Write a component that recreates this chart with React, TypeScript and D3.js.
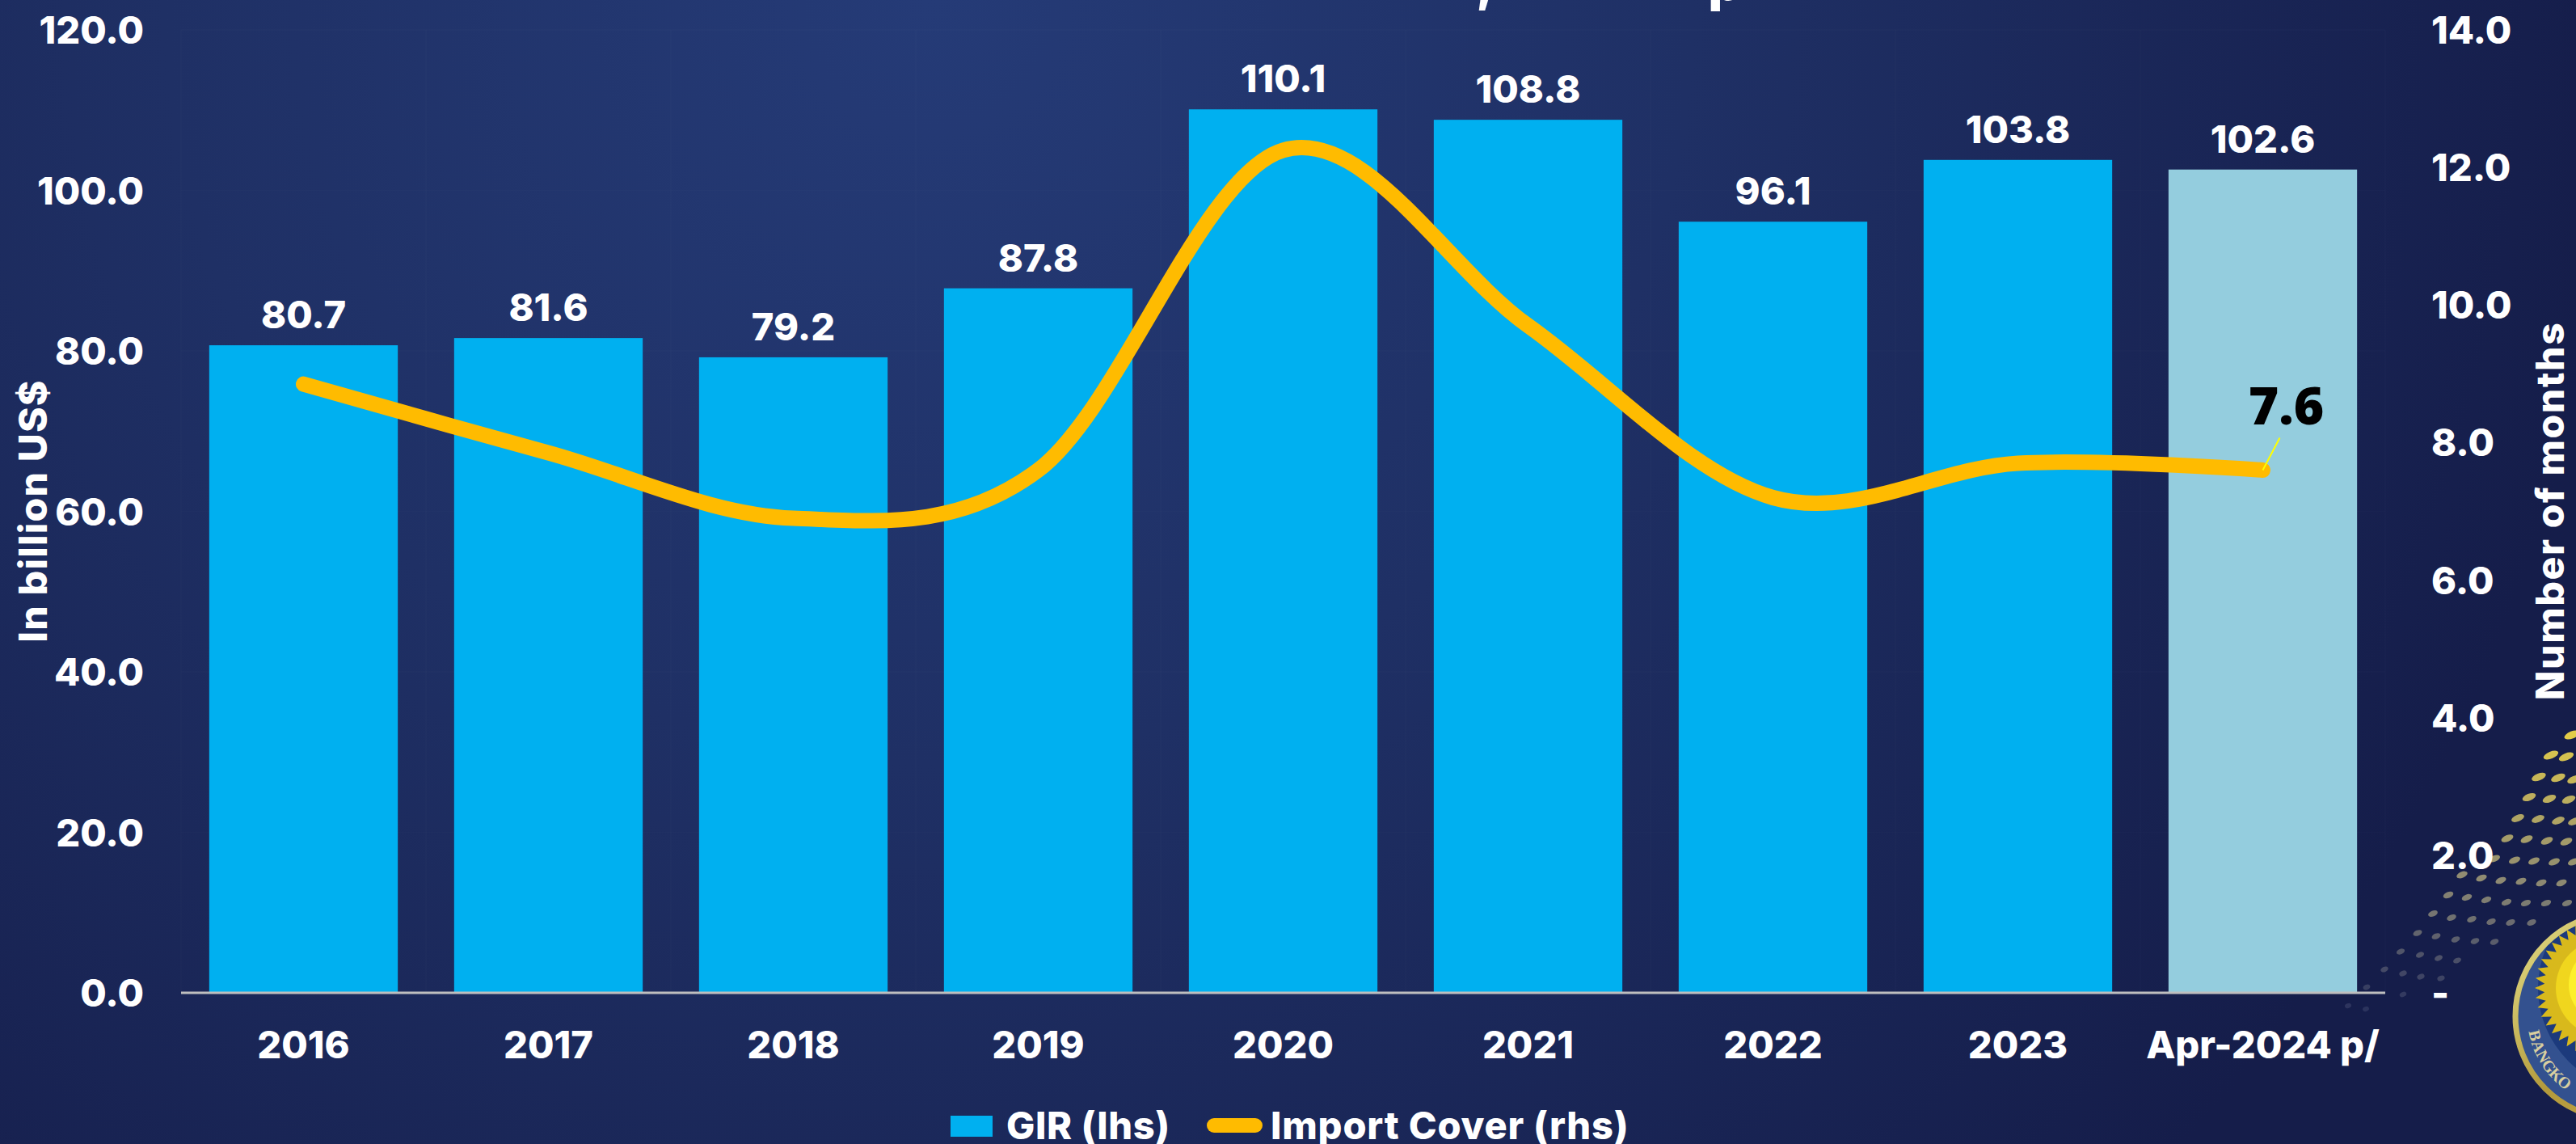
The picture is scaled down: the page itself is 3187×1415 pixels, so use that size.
import React from "react";
import * as d3 from "d3";

const W = 3187;
const H = 1415;

const categories = ["2016", "2017", "2018", "2019", "2020", "2021", "2022", "2023", "Apr-2024 p/"];
const girValues = [80.7, 81.6, 79.2, 87.8, 110.1, 108.8, 96.1, 103.8, 102.6];
const importCover = [8.85, 7.85, 6.9, 7.6, 12.25, 9.7, 7.2, 7.7, 7.6];
const leftTicks = [0, 20, 40, 60, 80, 100, 120];
const rightTicks = [0, 2, 4, 6, 8, 10, 12, 14];
const sealLetters = ["B", "A", "N", "G", "K", "O", "S"];

// Halftone arc of dots sweeping down to the seal in the lower right corner.
const sealDots: [number, number][] = [
  [3182, 909], [3175, 936], [3156, 934], [3141, 961], [3165, 962], [3185, 964],
  [3129, 986], [3154, 988], [3178, 989], [3115, 1012], [3140, 1013], [3165, 1015], [3185, 1016],
  [3102, 1037], [3126, 1038], [3151, 1040], [3175, 1041],
  [3086, 1062], [3111, 1064], [3135, 1065], [3160, 1066], [3184, 1066],
  [3046, 1082], [3070, 1086], [3094, 1089], [3119, 1090], [3144, 1092], [3169, 1092],
  [3029, 1107], [3052, 1110], [3076, 1113], [3101, 1116], [3125, 1117], [3150, 1117], [3176, 1117],
  [3010, 1130], [3033, 1135], [3058, 1137], [3082, 1140], [3106, 1141], [3132, 1141],
  [2991, 1154], [3014, 1158], [3038, 1162], [3062, 1164], [3086, 1165],
  [2970, 1177], [2994, 1181], [3017, 1185], [3040, 1188],
  [2950, 1199], [2973, 1204], [2995, 1208], [3020, 1210],
  [2928, 1221], [2973, 1230], [2905, 1244], [2927, 1248],
];

const FONT = "Inter, 'Open Sans', sans-serif";
const plot = { left: 224, right: 2951, top: 37, bottom: 1228 };
const seal = { cx: 3239, cy: 1257, r: 130, sunX: 3222, sunY: 1222 };

// Spiky outline for the sun in the seal.
function sunburst(cx: number, cy: number, outer: number, inner: number, n: number) {
  const radial = d3
    .lineRadial<number>()
    .angle((i) => (i * Math.PI) / n)
    .radius((i) => (i % 2 === 0 ? outer : inner))
    .curve(d3.curveLinearClosed);
  return { d: radial(d3.range(2 * n)) ?? "", transform: `translate(${cx},${cy})` };
}

export default function App() {
  const x = d3.scaleBand<string>().domain(categories).range([plot.left, plot.right]).paddingInner(0.23).paddingOuter(0.115);
  const yL = d3.scaleLinear().domain([0, 120]).range([plot.bottom, plot.top]);
  const yR = d3.scaleLinear().domain([0, 14]).range([plot.bottom, plot.top]);
  const cx = (c: string) => (x(c) as number) + x.bandwidth() / 2;
  const line = d3
    .line<number>()
    .x((_, i) => cx(categories[i]))
    .y((v) => yR(v))
    .curve(d3.curveCatmullRom.alpha(0));
  const last = categories.length - 1;
  const lastX = cx(categories[last]);
  const lastY = yR(importCover[last]);
  const step = x.step();

  const dotColor = d3.scaleLinear<string>().domain([950, 1090, 1250]).range(["#d8c455", "#b5ad80", "#5d6488"]);
  const dotAlpha = d3.scaleLinear().domain([950, 1130, 1250]).range([0.95, 0.7, 0.3]);
  const dotRx = d3.scaleLinear().domain([920, 1250]).range([10, 4]).clamp(true);
  const dotRy = d3.scaleLinear().domain([920, 1250]).range([4.5, 3]).clamp(true);
  const sun = sunburst(seal.sunX, seal.sunY, 86, 74, 44);

  return (
    <svg
      width={W}
      height={H}
      viewBox={`0 0 ${W} ${H}`}
      style={{ position: "absolute", left: 0, top: 0, display: "block" }}
      fontFamily={FONT}
      fontWeight={800}
    >
      <defs>
        <radialGradient id="bg" gradientUnits="userSpaceOnUse" cx={1150} cy={0} r={2100}>
          <stop offset="0" stopColor="#253b77" />
          <stop offset="0.45" stopColor="#1f3065" />
          <stop offset="1" stopColor="#151d4a" />
        </radialGradient>
        <linearGradient id="sealRing" x1="0" y1="0" x2="1" y2="1">
          <stop offset="0" stopColor="#e6e08a" />
          <stop offset="0.5" stopColor="#b39a3c" />
          <stop offset="1" stopColor="#c9a94a" />
        </linearGradient>
        <clipPath id="sealClip">
          <circle cx={seal.cx} cy={seal.cy} r={seal.r} />
        </clipPath>
      </defs>
      <rect width={W} height={H} fill="url(#bg)" />

      {/* faint chart grid */}
      <g stroke="#ffffff" strokeOpacity={0.012} strokeWidth={2}>
        {leftTicks.map((t) => (
          <line key={t} x1={plot.left} x2={plot.right} y1={yL(t)} y2={yL(t)} />
        ))}
        {d3.range(categories.length + 1).map((i) => (
          <line key={i} x1={plot.left + i * step} x2={plot.left + i * step} y1={plot.top} y2={plot.bottom} />
        ))}
      </g>

      {/* corner ornament: dots and seal */}
      {sealDots.map(([dx, dy], i) => (
        <ellipse
          key={i}
          cx={dx}
          cy={dy}
          rx={dotRx(dy)}
          ry={dotRy(dy)}
          transform={`rotate(-22 ${dx} ${dy})`}
          fill={dotColor(dy)}
          opacity={dotAlpha(dy)}
        />
      ))}
      <g clipPath="url(#sealClip)">
        <circle cx={seal.cx} cy={seal.cy} r={seal.r} fill="#33518f" />
        <circle cx={3268} cy={1222} r={128} fill="#1c3a7c" />
        <path d={sun.d} transform={sun.transform} fill="#d8b91c" />
        <circle cx={seal.sunX} cy={seal.sunY} r={60} fill="#f0d61e" />
        <circle cx={seal.sunX + 4} cy={seal.sunY - 4} r={48} fill="#fdf02a" />
        <circle cx={seal.sunX + 8} cy={seal.sunY - 26} r={42} fill="#1a2f6b" />
      </g>
      <circle cx={seal.cx} cy={seal.cy} r={seal.r - 3} fill="none" stroke="url(#sealRing)" strokeWidth={7} />
      {/* lettering set one glyph at a time around the lower rim */}
      {sealLetters.map((ch, i) => {
        const deg = 167 - (i < 6 ? i : i + 1) * 7.6;
        const a = (deg * Math.PI) / 180;
        const px = seal.cx + 112 * Math.cos(a);
        const py = seal.cy + 112 * Math.sin(a);
        return (
          <text
            key={i}
            transform={`translate(${px},${py}) rotate(${deg - 90})`}
            textAnchor="middle"
            fontSize={20}
            fontWeight={600}
            fill="#d9cfa0"
            fontFamily="'Liberation Serif', serif"
          >
            {ch}
          </text>
        );
      })}

      {/* title descenders at the top edge */}
      <text x={1826} y={0} fontSize={66} fill="#fff">,</text>
      <text x={2113} y={0} fontSize={66} fill="#fff">p</text>

      {/* bars */}
      {categories.map((c, i) => (
        <rect
          key={c}
          x={x(c)}
          y={yL(girValues[i])}
          width={x.bandwidth()}
          height={plot.bottom - yL(girValues[i])}
          fill={i === last ? "#94cdde" : "#00b0f0"}
        />
      ))}
      <line x1={plot.left} x2={plot.right} y1={plot.bottom} y2={plot.bottom} stroke="#bfbfbf" strokeWidth={3} />

      {/* value labels */}
      {categories.map((c, i) => (
        <text key={c} x={cx(c)} y={yL(girValues[i]) - 21} textAnchor="middle" fontSize={47} fill="#fff">
          {girValues[i].toFixed(1)}
        </text>
      ))}

      {/* import cover line */}
      <path d={line(importCover) ?? ""} fill="none" stroke="#ffbb00" strokeWidth={19} strokeLinecap="round" />
      <line x1={lastX} y1={lastY} x2={lastX + 21} y2={lastY - 40} stroke="#ffff00" strokeWidth={2} />
      <text x={lastX + 29} y={525} textAnchor="middle" fontSize={64} fontWeight={800} fontFamily="'Open Sans', sans-serif" fill="#000">
        {importCover[last].toFixed(1)}
      </text>

      {/* axes */}
      {leftTicks.map((t) => (
        <text key={t} x={178} y={yL(t) + 17} textAnchor="end" fontSize={47} fill="#fff">
          {t.toFixed(1)}
        </text>
      ))}
      {rightTicks.map((t) => (
        <text key={t} x={3008} y={yR(t) + 17} fontSize={47} fill="#fff">
          {t === 0 ? "-" : t.toFixed(1)}
        </text>
      ))}
      {categories.map((c) => (
        <text key={c} x={cx(c)} y={1309} textAnchor="middle" fontSize={47} fill="#fff">
          {c}
        </text>
      ))}
      <text transform="translate(58,632) rotate(-90)" textAnchor="middle" fontSize={48} fill="#fff" letterSpacing={1.2}>
        In billion US$
      </text>
      <text transform="translate(3172,632) rotate(-90)" textAnchor="middle" fontSize={48} fill="#fff" letterSpacing={1.6}>
        Number of months
      </text>

      {/* legend */}
      <rect x={1176} y={1380} width={52} height={26} fill="#00b0f0" />
      <text x={1245} y={1409} fontSize={47} fill="#fff" letterSpacing={0.6}>GIR (lhs)</text>
      <line x1={1502} x2={1553} y1={1392} y2={1392} stroke="#ffbb00" strokeWidth={18} strokeLinecap="round" />
      <text x={1572} y={1409} fontSize={47} fill="#fff" letterSpacing={0.8}>Import Cover (rhs)</text>
    </svg>
  );
}
